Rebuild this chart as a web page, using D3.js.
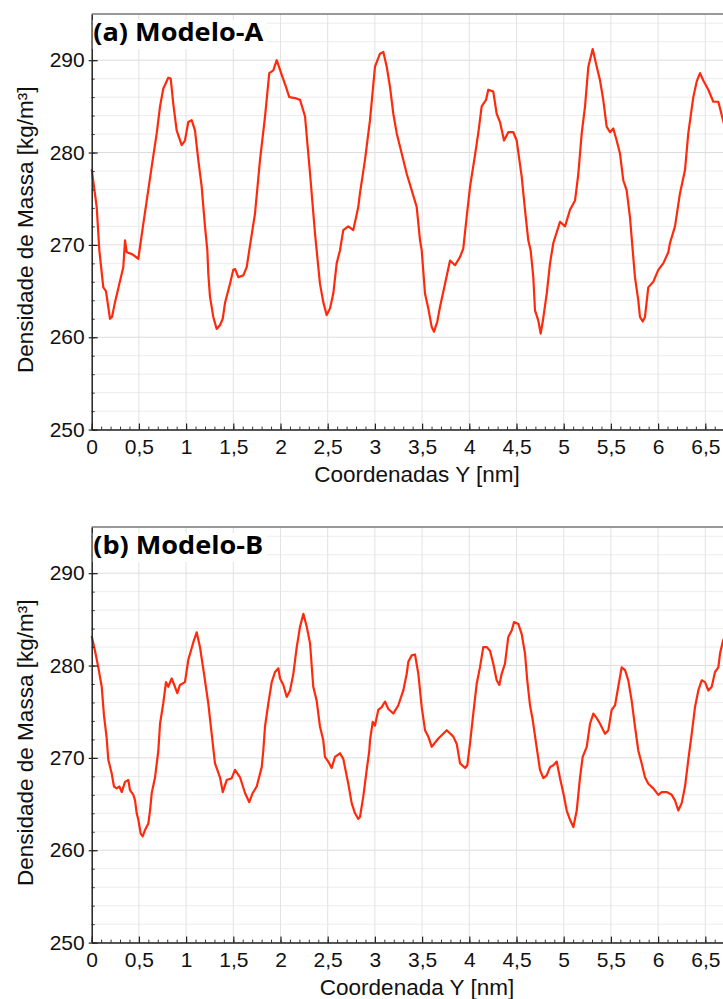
<!DOCTYPE html>
<html>
<head>
<meta charset="utf-8">
<script src="https://cdn.jsdelivr.net/npm/d3@7"></script>
<style>
  body { margin: 0; background: #fff; }
  svg { display: block; }
  .tick text { font-family: "Liberation Sans", Arial, Helvetica, sans-serif; }
</style>
</head>
<body>
<div id="chart"></div>
<script>
// density profiles: [Y coordinate (nm), density (kg/m3)]
var modeloA = [
  [0, 278.2], [0.053, 274.1], [0.081, 269.4], [0.123, 265.4], [0.151, 265.0], [0.194, 262.0],
  [0.215, 262.2], [0.247, 263.8], [0.335, 267.6], [0.353, 270.5], [0.371, 269.2], [0.427, 269.0],
  [0.494, 268.5], [0.512, 269.8], [0.547, 272.3], [0.583, 274.8], [0.636, 278.5], [0.689, 282.1],
  [0.724, 285.0], [0.758, 286.9], [0.811, 288.1], [0.837, 288.0], [0.864, 285.3], [0.900, 282.4],
  [0.953, 280.8], [0.988, 281.3], [1.023, 283.3], [1.059, 283.5], [1.094, 282.4], [1.129, 279.2],
  [1.165, 276.3], [1.200, 272.0], [1.225, 269.4], [1.235, 266.9], [1.253, 264.4], [1.288, 262.2],
  [1.324, 260.9], [1.359, 261.3], [1.388, 262.0], [1.412, 263.7], [1.465, 265.8], [1.500, 267.3],
  [1.518, 267.4], [1.553, 266.5], [1.606, 266.7], [1.642, 267.6], [1.669, 269.4], [1.730, 273.4],
  [1.783, 279.2], [1.836, 283.9], [1.881, 288.6], [1.924, 288.9], [1.960, 290.0], [2.013, 288.4],
  [2.058, 287.1], [2.093, 286.0], [2.154, 285.9], [2.207, 285.7], [2.260, 283.9], [2.313, 277.7],
  [2.366, 271.2], [2.383, 269.4], [2.418, 265.8], [2.453, 263.8], [2.489, 262.4], [2.524, 263.1],
  [2.559, 264.7], [2.595, 268.0], [2.630, 269.4], [2.665, 271.6], [2.718, 272.0], [2.771, 271.6],
  [2.824, 274.1], [2.842, 275.6], [2.895, 279.2], [2.948, 283.5], [3.001, 289.3], [3.054, 290.7],
  [3.089, 290.9], [3.125, 289.3], [3.160, 287.1], [3.195, 284.2], [3.231, 282.1], [3.284, 279.9],
  [3.337, 277.7], [3.390, 275.9], [3.443, 274.1], [3.478, 270.5], [3.496, 269.4], [3.531, 264.7],
  [3.566, 263.1], [3.602, 261.1], [3.626, 260.6], [3.661, 261.7], [3.690, 263.3], [3.743, 265.8],
  [3.796, 268.3], [3.849, 267.8], [3.902, 268.7], [3.936, 269.6], [3.972, 273.0], [4.008, 276.3],
  [4.060, 279.7], [4.095, 282.1], [4.131, 285.0], [4.177, 285.7], [4.201, 286.8], [4.254, 286.6],
  [4.290, 284.2], [4.325, 283.3], [4.368, 281.3], [4.413, 282.2], [4.466, 282.2], [4.502, 281.3],
  [4.555, 277.4], [4.590, 273.8], [4.625, 270.5], [4.650, 269.4], [4.678, 266.5], [4.696, 262.9],
  [4.731, 261.8], [4.756, 260.4], [4.778, 261.7], [4.820, 264.7], [4.855, 268.0], [4.890, 270.2],
  [4.961, 272.5], [5.014, 272.0], [5.067, 273.8], [5.120, 274.8], [5.155, 277.7], [5.191, 282.1],
  [5.226, 285.0], [5.261, 289.3], [5.307, 291.2], [5.350, 289.3], [5.385, 287.8], [5.419, 285.7],
  [5.455, 282.8], [5.491, 282.2], [5.525, 282.6], [5.561, 281.3], [5.596, 279.9], [5.631, 277.0],
  [5.667, 275.9], [5.702, 273.0], [5.731, 269.4], [5.755, 266.5], [5.790, 264.0], [5.808, 262.2],
  [5.837, 261.7], [5.861, 262.2], [5.896, 265.4], [5.949, 266.0], [6.002, 267.3], [6.055, 268.0],
  [6.108, 269.2], [6.126, 270.2], [6.179, 272.0], [6.232, 275.6], [6.285, 278.1], [6.320, 282.1],
  [6.373, 286.0], [6.409, 287.7], [6.444, 288.6], [6.479, 287.8], [6.532, 286.8], [6.585, 285.5],
  [6.638, 285.5], [6.688, 283.5], [6.75, 281.0]
];

var modeloB = [
  [0, 283.2], [0.035, 281.6], [0.070, 279.8], [0.106, 277.7], [0.130, 274.6], [0.159, 272.1],
  [0.176, 269.8], [0.212, 268.3], [0.236, 266.9], [0.265, 266.7], [0.292, 266.9], [0.318, 266.3],
  [0.353, 267.4], [0.388, 267.6], [0.406, 266.5], [0.441, 266.0], [0.459, 265.4], [0.477, 264.0],
  [0.494, 263.3], [0.519, 261.8], [0.540, 261.5], [0.565, 262.2], [0.600, 262.9], [0.618, 264.3],
  [0.636, 266.2], [0.671, 267.9], [0.706, 270.8], [0.724, 273.7], [0.758, 275.9], [0.787, 278.2],
  [0.811, 277.7], [0.847, 278.6], [0.882, 277.7], [0.907, 277.0], [0.935, 277.9], [0.988, 278.2],
  [1.023, 280.6], [1.076, 282.5], [1.112, 283.6], [1.147, 282.0], [1.190, 279.1], [1.235, 275.9],
  [1.271, 272.6], [1.306, 269.4], [1.359, 267.9], [1.388, 266.3], [1.430, 267.6], [1.483, 267.8],
  [1.518, 268.7], [1.571, 267.9], [1.624, 266.2], [1.669, 265.2], [1.706, 266.2], [1.748, 266.9],
  [1.801, 269.0], [1.818, 270.8], [1.836, 273.4], [1.871, 275.9], [1.907, 278.2], [1.942, 279.3],
  [1.977, 279.7], [1.995, 278.6], [2.030, 277.9], [2.066, 276.6], [2.101, 277.3], [2.136, 279.1],
  [2.172, 282.0], [2.207, 284.2], [2.242, 285.6], [2.278, 284.2], [2.313, 282.4], [2.347, 277.7],
  [2.383, 276.2], [2.418, 273.4], [2.453, 271.9], [2.471, 270.1], [2.506, 269.6], [2.542, 268.9],
  [2.577, 270.1], [2.630, 270.5], [2.665, 269.9], [2.718, 267.2], [2.754, 265.1], [2.789, 264.0],
  [2.824, 263.4], [2.842, 263.6], [2.877, 265.8], [2.913, 268.7], [2.941, 270.8], [2.948, 271.9],
  [2.977, 273.9], [3.001, 273.5], [3.036, 275.2], [3.072, 275.5], [3.107, 276.1], [3.142, 275.3],
  [3.195, 274.8], [3.248, 275.7], [3.301, 277.3], [3.337, 279.1], [3.354, 280.4], [3.390, 281.1],
  [3.425, 281.2], [3.460, 279.1], [3.496, 275.5], [3.531, 273.0], [3.566, 272.3], [3.602, 271.2],
  [3.672, 272.1], [3.761, 273.0], [3.831, 272.3], [3.867, 271.5], [3.902, 269.4], [3.955, 268.9],
  [3.979, 269.2], [4.008, 271.6], [4.042, 274.8], [4.078, 278.0], [4.113, 279.8], [4.148, 282.0],
  [4.184, 282.0], [4.219, 281.6], [4.254, 280.2], [4.290, 278.4], [4.318, 277.9], [4.343, 279.1],
  [4.378, 280.2], [4.413, 283.1], [4.449, 283.8], [4.474, 284.7], [4.519, 284.5], [4.555, 283.4],
  [4.590, 281.3], [4.614, 278.4], [4.643, 275.7], [4.672, 274.1], [4.707, 271.6], [4.749, 268.7],
  [4.784, 267.8], [4.820, 268.1], [4.855, 269.0], [4.890, 269.2], [4.926, 269.6], [4.961, 267.8],
  [4.996, 266.2], [5.032, 264.3], [5.067, 263.3], [5.102, 262.5], [5.138, 264.3], [5.173, 267.9],
  [5.201, 270.1], [5.244, 271.2], [5.279, 273.7], [5.314, 274.8], [5.350, 274.3], [5.385, 273.7],
  [5.438, 272.6], [5.473, 273.0], [5.508, 275.2], [5.544, 275.7], [5.578, 277.7], [5.614, 279.8],
  [5.650, 279.5], [5.684, 278.4], [5.720, 276.2], [5.755, 273.4], [5.790, 270.8], [5.826, 269.4],
  [5.861, 267.9], [5.896, 267.2], [5.949, 266.7], [6.002, 266.0], [6.038, 266.3], [6.091, 266.3],
  [6.144, 266.0], [6.179, 265.4], [6.214, 264.3], [6.250, 265.1], [6.285, 266.9], [6.320, 269.8],
  [6.356, 272.6], [6.391, 275.5], [6.426, 277.3], [6.462, 278.4], [6.497, 278.2], [6.532, 277.3],
  [6.568, 277.7], [6.603, 279.3], [6.638, 279.8], [6.656, 281.3], [6.688, 282.7], [6.75, 284.0]
];

var panelTitles = ["(a) Modelo-A", "(b) Modelo-B"];
var xTitles = ["Coordenadas Y [nm]", "Coordenada Y [nm]"];
var yTitle = "Densidade de Massa [kg/m\u00b3]";
var xMajor = d3.range(0, 6.51, 0.5);
var xMinor = d3.range(0, 7.01, 0.1);
var yMajor = [250, 260, 270, 280, 290];
var yMinor = d3.range(250, 295.1, 2);

var W = 723, H = 999;
var margin = {left: 91.7},
    plotW = 660.8,   // 0..7 nm, the right part falls outside the picture
    plotH = 415.6;
var tops = [14, 527];

var svg = d3.select("#chart").append("svg")
    .attr("width", W)
    .attr("height", H);

var x = d3.scaleLinear().domain([0, 7]).range([0, plotW]);
var y = d3.scaleLinear().domain([250, 295]).range([plotH, 0]);

var fmt = function(d) { return String(+d.toFixed(2)).replace(".", ","); };

var line = d3.line()
    .x(function(d) { return x(d[0]); })
    .y(function(d) { return y(d[1]); });

[modeloA, modeloB].forEach(function(data, i) {
  var g = svg.append("g")
      .attr("transform", "translate(" + margin.left + "," + tops[i] + ")");

  // grid
  g.append("g").selectAll("line")
    .data(yMinor).enter().append("line")
      .attr("x1", 0).attr("x2", plotW)
      .attr("y1", function(d) { return y(d); })
      .attr("y2", function(d) { return y(d); })
      .attr("stroke", function(d) { return d % 10 == 0 ? "#dcdcdc" : "#ececec"; })
      .attr("stroke-width", 1);

  g.append("g").selectAll("line")
    .data(d3.range(0.5, 7.01, 0.5)).enter().append("line")
      .attr("x1", function(d) { return x(d); })
      .attr("x2", function(d) { return x(d); })
      .attr("y1", 0).attr("y2", plotH)
      .attr("stroke", "#e2e2e2")
      .attr("stroke-width", 1);

  // top frame
  g.append("line")
    .attr("x1", 0).attr("x2", plotW)
    .attr("y1", 0).attr("y2", 0)
    .attr("stroke", "#777").attr("stroke-width", 1.5);

  // curve
  g.append("path")
    .datum(data)
    .attr("fill", "none")
    .attr("stroke", "#ff2a0c")
    .attr("stroke-width", 2.2)
    .attr("stroke-linejoin", "round")
    .attr("d", line);

  // minor ticks
  g.append("g")
    .attr("transform", "translate(0," + plotH + ")")
    .call(d3.axisBottom(x).tickValues(xMinor).tickSize(-3).tickFormat(""))
    .call(function(a) { a.select(".domain").remove(); a.selectAll("line").attr("stroke", "#333"); });

  g.append("g")
    .call(d3.axisLeft(y).tickValues(yMinor).tickSize(-3).tickFormat(""))
    .call(function(a) { a.select(".domain").remove(); a.selectAll("line").attr("stroke", "#333"); });

  // major axes
  var xa = g.append("g")
    .attr("transform", "translate(0," + plotH + ")")
    .call(d3.axisBottom(x).tickValues(xMajor).tickSize(-6).tickSizeOuter(0).tickPadding(9).tickFormat(fmt));
  xa.select(".domain").attr("stroke", "#222").attr("stroke-width", 1.5);
  xa.selectAll("line").attr("stroke", "#222").attr("stroke-width", 1.2);
  xa.selectAll("text").attr("font-size", "21px").attr("fill", "#111");

  var ya = g.append("g")
    .call(d3.axisLeft(y).tickValues(yMajor).tickSize(-6).tickSizeOuter(0).tickPadding(7).tickFormat(d3.format("d")));
  ya.select(".domain").attr("stroke", "#222").attr("stroke-width", 1.5);
  ya.selectAll("line").attr("stroke", "#222").attr("stroke-width", 1.2);
  ya.selectAll("text").attr("font-size", "21px").attr("fill", "#111");
  // short outward part of the y ticks
  ya.selectAll(".tick").append("line")
    .attr("x1", -3).attr("x2", 0)
    .attr("stroke", "#222").attr("stroke-width", 1.2);

  // panel title with white box
  g.append("rect")
    .attr("x", 1).attr("y", 6)
    .attr("width", 174).attr("height", 29)
    .attr("fill", "#fff");
  g.append("text")
    .attr("x", 1.5).attr("y", 26.5)
    .attr("font-family", "'Open Sans', 'Noto Sans', sans-serif")
    .attr("font-weight", "bold")
    .attr("font-size", "25px")
    .attr("textLength", 170)
    .attr("lengthAdjust", "spacingAndGlyphs")
    .attr("fill", "#000")
    .text(panelTitles[i]);

  // axis titles
  g.append("text")
    .attr("x", 417 - margin.left)
    .attr("y", plotH + 52)
    .attr("text-anchor", "middle")
    .attr("font-family", "'Liberation Sans', Arial, Helvetica, sans-serif")
    .attr("font-size", "22.5px")
    .attr("fill", "#111")
    .text(xTitles[i]);

  g.append("text")
    .attr("transform", "translate(" + (33 - margin.left) + "," + (plotH / 2 + 8) + ") rotate(-90)")
    .attr("text-anchor", "middle")
    .attr("font-family", "'Liberation Sans', Arial, Helvetica, sans-serif")
    .attr("font-size", "22.5px")
    .attr("fill", "#111")
    .text(yTitle);
});
</script>
</body>
</html>
